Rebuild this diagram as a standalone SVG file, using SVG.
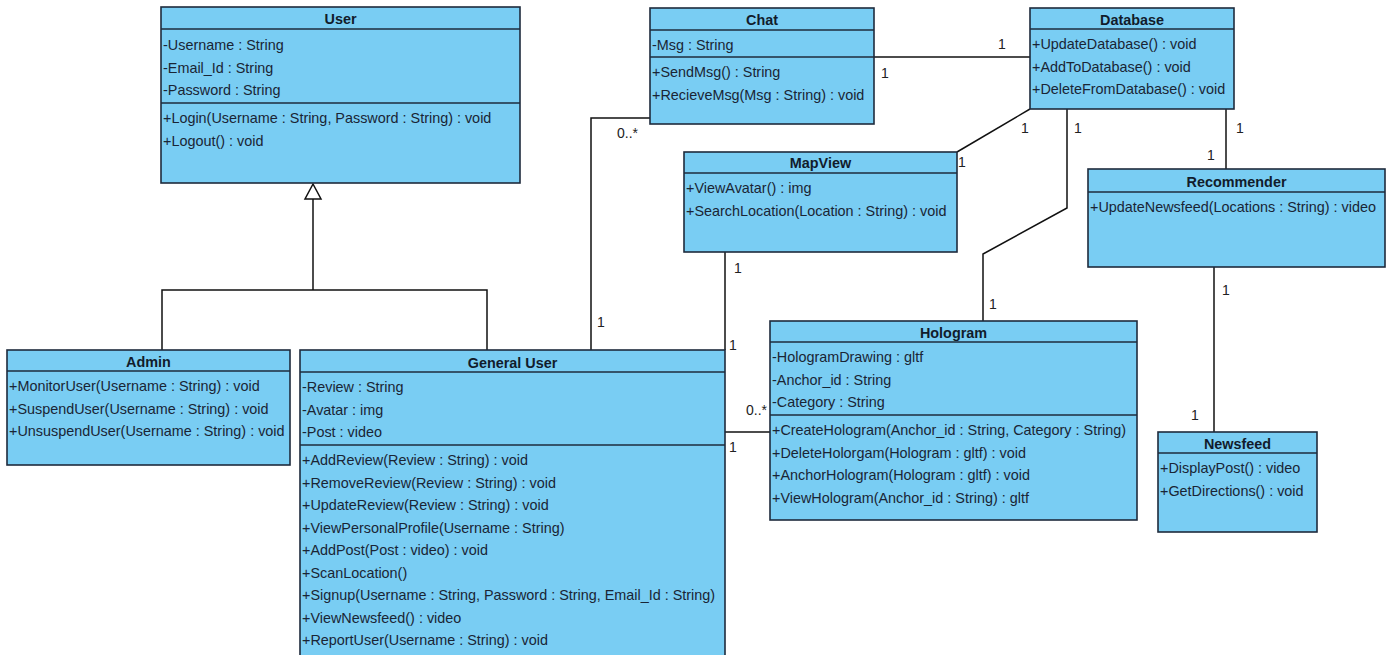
<svg xmlns="http://www.w3.org/2000/svg" width="1393" height="655" viewBox="0 0 1393 655">
  <style>
    .box { fill: #79CDF3; stroke: #1E2B3C; stroke-width: 1.6; }
    .div { stroke: #1E2B3C; stroke-width: 1.6; }
    .t { font-family: "Liberation Sans", Arial, sans-serif; font-size: 14.4px; fill: #1A2535; }
    .h { font-family: "Liberation Sans", Arial, sans-serif; font-size: 14.4px; font-weight: bold; fill: #111C2C; text-anchor: middle; }
    .ln { fill: none; stroke: #111; stroke-width: 1.5; }
    .m { font-family: "Liberation Sans", Arial, sans-serif; font-size: 14px; fill: #222; }
  </style>
  <rect width="1393" height="655" fill="#ffffff"/>

  <!-- associations and generalization -->
  <g id="connectors">
    <path class="ln" d="M162,350 V290 H487 V350"/>
    <path class="ln" d="M313,290 V199"/>
    <polygon points="313,184 305,199 321,199" fill="#ffffff" stroke="#111" stroke-width="1.5"/>
    <path class="ln" d="M591,350 V118 H650"/>
    <path class="ln" d="M874,57 H1030"/>
    <path class="ln" d="M1030,109 L957,152"/>
    <path class="ln" d="M1067,109 V208 L983,254 V321"/>
    <path class="ln" d="M1226,109 V169"/>
    <path class="ln" d="M1214,267 V432"/>
    <path class="ln" d="M725,252 V350"/>
    <path class="ln" d="M725,432 H770"/>
    <text class="m" x="617" y="138">0..*</text>
    <text class="m" x="597" y="327">1</text>
    <text class="m" x="998" y="49">1</text>
    <text class="m" x="881" y="78">1</text>
    <text class="m" x="1021" y="133">1</text>
    <text class="m" x="958" y="167">1</text>
    <text class="m" x="1074" y="133">1</text>
    <text class="m" x="989" y="309">1</text>
    <text class="m" x="1236" y="133">1</text>
    <text class="m" x="1207" y="160">1</text>
    <text class="m" x="1222" y="295">1</text>
    <text class="m" x="1191" y="420">1</text>
    <text class="m" x="734" y="273">1</text>
    <text class="m" x="729" y="350">1</text>
    <text class="m" x="746" y="415">0..*</text>
    <text class="m" x="729" y="452">1</text>
  </g>

  <g id="user">
    <rect class="box" x="161" y="7" width="359" height="176"/>
    <line class="div" x1="161" y1="29" x2="520" y2="29"/>
    <line class="div" x1="161" y1="103" x2="520" y2="103"/>
    <text class="h" x="340.5" y="24">User</text>
    <text class="t" x="163" y="50">-Username : String</text>
    <text class="t" x="163" y="72.5">-Email_Id : String</text>
    <text class="t" x="163" y="95">-Password : String</text>
    <text class="t" x="163" y="123">+Login(Username : String, Password : String) : void</text>
    <text class="t" x="163" y="145.5">+Logout() : void</text>
  </g>

  <g id="chat">
    <rect class="box" x="650" y="8" width="224" height="116"/>
    <line class="div" x1="650" y1="30" x2="874" y2="30"/>
    <line class="div" x1="650" y1="57" x2="874" y2="57"/>
    <text class="h" x="762" y="25">Chat</text>
    <text class="t" x="652" y="50">-Msg : String</text>
    <text class="t" x="652" y="77">+SendMsg() : String</text>
    <text class="t" x="652" y="99.5">+RecieveMsg(Msg : String) : void</text>
  </g>

  <g id="database">
    <rect class="box" x="1030" y="8" width="204" height="101"/>
    <line class="div" x1="1030" y1="29" x2="1234" y2="29"/>
    <text class="h" x="1132" y="25">Database</text>
    <text class="t" x="1032" y="49">+UpdateDatabase() : void</text>
    <text class="t" x="1032" y="71.5">+AddToDatabase() : void</text>
    <text class="t" x="1032" y="94">+DeleteFromDatabase() : void</text>
  </g>

  <g id="mapview">
    <rect class="box" x="684" y="152" width="273" height="100"/>
    <line class="div" x1="684" y1="173" x2="957" y2="173"/>
    <text class="h" x="820.5" y="168">MapView</text>
    <text class="t" x="686" y="193">+ViewAvatar() : img</text>
    <text class="t" x="686" y="215.5">+SearchLocation(Location : String) : void</text>
  </g>

  <g id="recommender">
    <rect class="box" x="1088" y="169" width="297" height="98"/>
    <line class="div" x1="1088" y1="192" x2="1385" y2="192"/>
    <text class="h" x="1236.5" y="187">Recommender</text>
    <text class="t" x="1090" y="212">+UpdateNewsfeed(Locations : String) : video</text>
  </g>

  <g id="admin">
    <rect class="box" x="7" y="350" width="283" height="115"/>
    <line class="div" x1="7" y1="371" x2="290" y2="371"/>
    <text class="h" x="148.5" y="367">Admin</text>
    <text class="t" x="9" y="391">+MonitorUser(Username : String) : void</text>
    <text class="t" x="9" y="413.5">+SuspendUser(Username : String) : void</text>
    <text class="t" x="9" y="436">+UnsuspendUser(Username : String) : void</text>
  </g>

  <g id="general-user">
    <rect class="box" x="300" y="350" width="425" height="315"/>
    <line class="div" x1="300" y1="372" x2="725" y2="372"/>
    <line class="div" x1="300" y1="445" x2="725" y2="445"/>
    <text class="h" x="512.5" y="368">General User</text>
    <text class="t" x="302" y="392">-Review : String</text>
    <text class="t" x="302" y="414.5">-Avatar : img</text>
    <text class="t" x="302" y="437">-Post : video</text>
    <text class="t" x="302" y="465">+AddReview(Review : String) : void</text>
    <text class="t" x="302" y="487.5">+RemoveReview(Review : String) : void</text>
    <text class="t" x="302" y="510">+UpdateReview(Review : String) : void</text>
    <text class="t" x="302" y="532.5">+ViewPersonalProfile(Username : String)</text>
    <text class="t" x="302" y="555">+AddPost(Post : video) : void</text>
    <text class="t" x="302" y="577.5">+ScanLocation()</text>
    <text class="t" x="302" y="600">+Signup(Username : String, Password : String, Email_Id : String)</text>
    <text class="t" x="302" y="622.5">+ViewNewsfeed() : video</text>
    <text class="t" x="302" y="645">+ReportUser(Username : String) : void</text>
  </g>

  <g id="hologram">
    <rect class="box" x="770" y="321" width="367" height="199"/>
    <line class="div" x1="770" y1="342" x2="1137" y2="342"/>
    <line class="div" x1="770" y1="415" x2="1137" y2="415"/>
    <text class="h" x="953.5" y="338">Hologram</text>
    <text class="t" x="772" y="362">-HologramDrawing : gltf</text>
    <text class="t" x="772" y="384.5">-Anchor_id : String</text>
    <text class="t" x="772" y="407">-Category : String</text>
    <text class="t" x="772" y="435">+CreateHologram(Anchor_id : String, Category : String)</text>
    <text class="t" x="772" y="457.5">+DeleteHolorgam(Hologram : gltf) : void</text>
    <text class="t" x="772" y="480">+AnchorHologram(Hologram : gltf) : void</text>
    <text class="t" x="772" y="502.5">+ViewHologram(Anchor_id : String) : gltf</text>
  </g>

  <g id="newsfeed">
    <rect class="box" x="1158" y="432" width="159" height="100"/>
    <line class="div" x1="1158" y1="453" x2="1317" y2="453"/>
    <text class="h" x="1237.5" y="449">Newsfeed</text>
    <text class="t" x="1160" y="473">+DisplayPost() : video</text>
    <text class="t" x="1160" y="495.5">+GetDirections() : void</text>
  </g>
</svg>
